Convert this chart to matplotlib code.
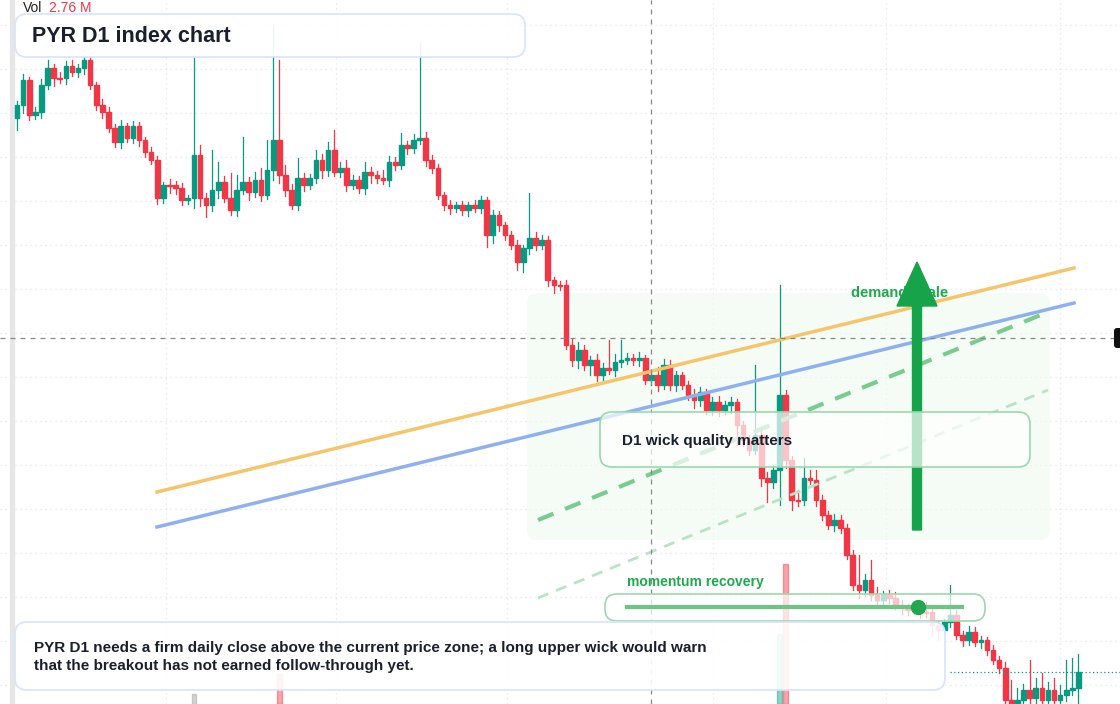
import matplotlib
matplotlib.use("Agg")
import matplotlib.pyplot as plt
from matplotlib.patches import FancyBboxPatch, Rectangle, FancyArrow

plt.rcParams["font.family"] = ["Liberation Sans", "DejaVu Sans"]

# chart-space values (y grows downward, like the screen)
closes = [
    105, 80, 115, 112, 85, 68, 78, 78, 66, 72, 68, 60, 85, 105, 112, 128, 142, 126, 138, 126,
    140, 152, 160, 198, 185, 185, 188, 200, 198, 155, 198, 205, 190, 182, 198, 210, 190, 182, 192, 180,
    195, 170, 140, 175, 190, 205, 178, 185, 178, 160, 170, 150, 172, 168, 185, 180, 188, 172, 175, 178,
    180, 162, 165, 145, 148, 140, 138, 160, 168, 195, 205, 208, 205, 210, 205, 208, 200, 235, 215, 225,
    235, 245, 262, 248, 238, 245, 240, 280, 285, 285, 345, 360, 350, 365, 360, 375, 368, 370, 362, 360,
    358, 360, 358, 380, 375, 385, 365, 385, 375, 385, 395, 400, 392, 410, 402, 410, 405, 402, 425, 440,
    450, 435, 478, 482, 470, 395, 460, 500, 500, 478, 480, 500, 515, 525, 520, 528, 555, 585, 590, 580,
    595, 600, 595, 598, 605, 608, 610, 608, 612, 612, 625, 630, 622, 615, 635, 640, 632, 642, 640, 650,
    660, 668, 700, 704, 700, 690, 698, 688, 700, 690, 700, 695, 690, 688, 672,
]
first_open = 118
upper_wick = [
    4, 6, 3, 5, 6, 8, 4, 6, 5, 6, 4, 5, 4, 3, 6, 5, 4, 6, 3, 5,
    4, 3, 5, 4, 3, 6, 4, 5, 3, 100, 10, 5, 40, 20, 6, 25, 15, 45, 5, 8,
    12, 30, 115, 80, 10, 6, 20, 5, 4, 10, 6, 8, 20, 6, 8, 5, 4, 10, 5, 4,
    8, 6, 5, 12, 4, 6, 95, 6, 5, 4, 3, 5, 3, 4, 3, 5, 4, 3, 5, 4,
    3, 4, 5, 3, 45, 6, 5, 4, 3, 4, 5, 6, 8, 5, 4, 6, 5, 28, 8, 20,
    5, 4, 6, 3, 5, 8, 6, 5, 4, 3, 4, 6, 5, 3, 5, 6, 4, 5, 3, 4,
    5, 70, 8, 6, 5, 110, 5, 4, 10, 20, 8, 10, 5, 4, 6, 5, 4, 5, 30, 6,
    20, 8, 4, 5, 6, 5, 4, 6, 5, 10, 4, 5, 3, 30, 5, 4, 6, 5, 4, 3,
    5, 4, 6, 20, 12, 6, 30, 10, 15, 8, 12, 10, 30, 30, 18,
]
lower_wick = [
    12, 8, 5, 4, 6, 4, 8, 5, 6, 4, 5, 6, 4, 5, 6, 4, 5, 6, 4, 5,
    6, 5, 4, 6, 5, 8, 6, 5, 4, 10, 8, 12, 6, 8, 4, 5, 6, 4, 8, 5,
    6, 4, 10, 8, 6, 4, 5, 6, 4, 5, 8, 6, 4, 5, 6, 4, 5, 6, 8, 5,
    4, 6, 5, 4, 6, 5, 4, 6, 5, 4, 5, 6, 4, 5, 6, 4, 5, 12, 8, 6,
    5, 4, 8, 10, 6, 5, 4, 6, 8, 5, 4, 6, 8, 5, 10, 6, 5, 4, 6, 5,
    4, 5, 6, 4, 5, 6, 4, 5, 6, 4, 5, 8, 6, 4, 5, 6, 4, 8, 20, 6,
    5, 4, 8, 20, 6, 35, 8, 10, 6, 5, 4, 6, 5, 4, 6, 5, 4, 5, 8, 6,
    5, 4, 6, 5, 4, 6, 5, 4, 6, 5, 8, 10, 6, 5, 4, 6, 5, 4, 6, 5,
    4, 5, 6, 4, 5, 4, 6, 5, 4, 6, 5, 4, 6, 5, 20,
]
vol_index = [29, 43, 125, 126]
vol_height = [10, 30, 70, 140]
vol_color = ["#9e9e9e", "#f23645", "#089981", "#f23645"]

x0, step = 17, 6.1
GREEN, RED = "#089981", "#f23645"

fig = plt.figure(figsize=(11.2, 7.04), dpi=100)
ax = fig.add_axes([0, 0, 1, 1])
ax.set_xlim(0, 1120)
ax.set_ylim(704, 0)
ax.axis("off")

# grid
for gx in [166, 336, 507, 713, 886, 1060]:
    ax.axvline(gx, color="#e3e6ea", lw=0.9, ls=(0, (1, 3)), zorder=0)
for gy in range(25, 704, 44):
    ax.axhline(gy, color="#e3e6ea", lw=0.9, ls=(0, (1, 3)), zorder=0)
ax.add_patch(Rectangle((10, 0), 4, 704, color="#e6e6e6", zorder=0))

# shaded zone
ax.add_patch(FancyBboxPatch((527, 293), 523, 247, boxstyle="round,pad=0,rounding_size=10",
                            fc="#effaf0", ec="none", alpha=0.6, zorder=0.5))

# volume
for vi, vh, vc in zip(vol_index, vol_height, vol_color):
    ax.add_patch(Rectangle((x0 + vi * step - 2.3, 704 - vh), 4.6, vh, color=vc, alpha=0.45, zorder=1))

# candles
opens = [first_open] + closes[:-1]
for i, (o, c, uw, lw) in enumerate(zip(opens, closes, upper_wick, lower_wick)):
    x = x0 + i * step
    col = GREEN if c < o else RED
    top, bot = min(o, c), max(o, c)
    ax.plot([x, x], [top - uw, bot + lw], color=col, lw=0.9, zorder=2)
    ax.add_patch(Rectangle((x - 2.3, top), 4.6, max(bot - top, 1.2), color=col, zorder=2))

# trend lines
ax.plot([157, 1074], [492, 268], color="#f6c46a", lw=2.5, zorder=3)
ax.plot([157, 1074], [527, 303], color="#8fb0f0", lw=2.5, zorder=3)
ax.plot([538, 1048], [520, 312], color="#7acb8f", lw=3, ls=(0, (4, 3)), zorder=3)
ax.plot([538, 1048], [598, 390], color="#b8e3c4", lw=2, ls=(0, (4, 3)), zorder=3)

# crosshair
ax.axhline(338, color="#888888", lw=0.9, ls=(0, (4, 4)), zorder=3)
ax.axvline(651, color="#888888", lw=0.9, ls=(0, (4, 4)), zorder=3)
ax.plot([950, 1120], [672, 672], color=GREEN, lw=0.9, ls=(0, (1, 2)), zorder=3)
ax.add_patch(FancyBboxPatch((1114, 328), 10, 20, boxstyle="round,pad=0,rounding_size=3",
                            fc="#111111", ec="none", zorder=6))

ax.text(851, 293, "demand scale", color="#1fa84f", fontsize=10.5, fontweight="bold", va="center", zorder=4)
ax.add_patch(FancyArrow(917, 530, 0, -268, width=9, head_width=40, head_length=44,
                        length_includes_head=True, color="#16a34a", zorder=5))

def box(x, y, w, h, ec, alpha=0.75):
    ax.add_patch(FancyBboxPatch((x, y), w, h, boxstyle="round,pad=0,rounding_size=12",
                                fc=(1, 1, 1, alpha), ec=ec, lw=1.2, zorder=6))

box(600, 412, 430, 55, "#9cd8ac", 0.7)
ax.text(622, 441, "D1 wick quality matters", fontsize=11, fontweight="bold", color="#1a1f2e",
        va="center", zorder=7)

box(605, 594, 380, 27, "#9cd8ac", 0.7)
ax.plot([627, 962], [607, 607], color="#6cc584", lw=3, zorder=7)
ax.plot([918], [607], "o", color="#22a650", ms=10, zorder=7)
ax.text(627, 582, "momentum recovery", color="#1fa84f", fontsize=10, fontweight="bold", va="center", zorder=7)

box(15, 622, 930, 68, "#d6e4fb", 0.9)
ax.text(34, 657, "PYR D1 needs a firm daily close above the current price zone; a long upper wick would warn\n"
        "that the breakout has not earned follow-through yet.", fontsize=11, fontweight="bold",
        color="#1a1f2e", va="center", linespacing=1.4, zorder=7)

box(15, 14, 510, 43, "#d6e4fb", 0.92)
ax.text(32, 36, "PYR D1 index chart", fontsize=15.5, fontweight="bold", color="#1a1f2e", va="center", zorder=7)

ax.text(23, 8, "Vol", fontsize=10, color="#222222", va="center", zorder=7)
ax.text(49, 8, "2.76 M", fontsize=10, color="#f23645", va="center", zorder=7)

fig.savefig("out.png", dpi=100)
